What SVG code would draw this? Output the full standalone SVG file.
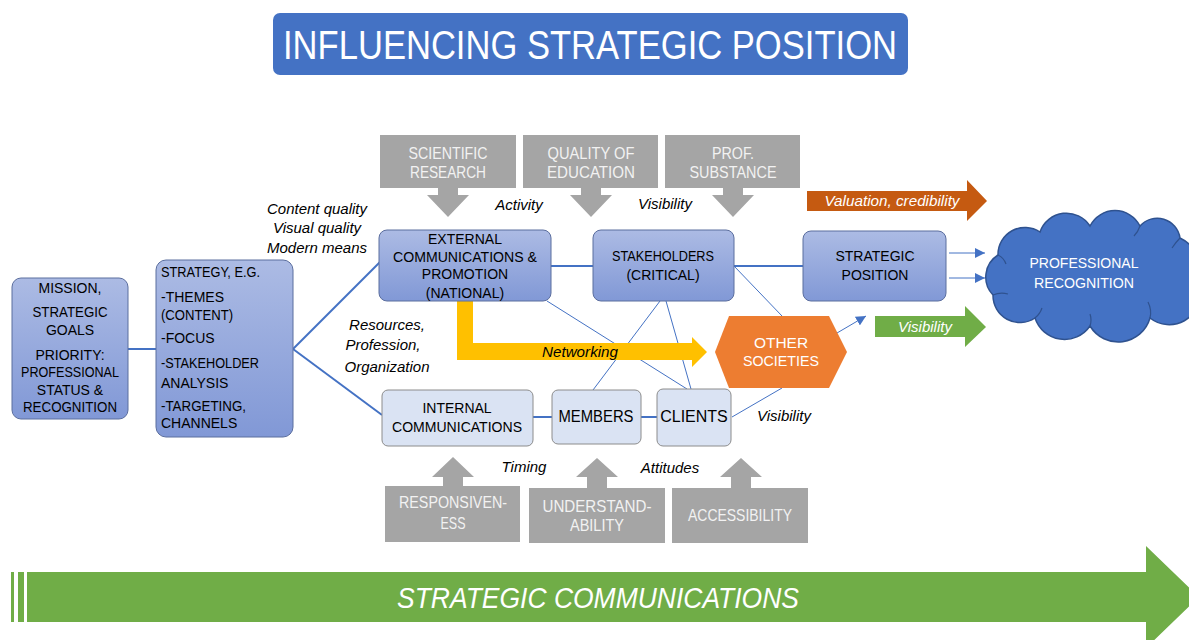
<svg xmlns="http://www.w3.org/2000/svg" width="1189" height="640" viewBox="0 0 1189 640">
  <defs>
    <linearGradient id="gBlue" x1="0" y1="0" x2="0" y2="1">
      <stop offset="0" stop-color="#ACBBE4"/>
      <stop offset="1" stop-color="#8198D6"/>
    </linearGradient>
    <marker id="ah" viewBox="0 0 10 10" refX="10" refY="5" markerWidth="10" markerHeight="10" markerUnits="userSpaceOnUse" orient="auto">
      <path d="M0,0 L10,5 L0,10 Z" fill="#4472C4"/>
    </marker>
    <style>
      text { font-family: "Liberation Sans", Arial, sans-serif; }
      .n { fill: url(#gBlue); stroke: #5B6E9E; stroke-width: 1; }
      .lt { fill: #DAE3F3; stroke: #8C8C8C; stroke-width: 1; }
      .g { fill: #A5A5A5; }
      .t { font-size: 14px; fill: #000; text-anchor: middle; }
      .tl { font-size: 14px; fill: #000; }
      .tg { font-size: 17px; fill: #F2F2F2; text-anchor: middle; }
      .tw { font-size: 15.5px; fill: #FFFFFF; text-anchor: middle; }
      .i { font-size: 15px; font-style: italic; fill: #000; text-anchor: middle; }
      .iw { font-size: 15px; font-style: italic; fill: #FFFFFF; text-anchor: middle; }
      .c { stroke: #4472C4; stroke-width: 2; fill: none; }
      .th { stroke: #4472C4; stroke-width: 1; fill: none; }
    </style>
  </defs>

  <rect width="1189" height="640" fill="#FFFFFF"/>

  <!-- title banner -->
  <g id="title">
    <rect x="273" y="13" width="635" height="62" rx="7" fill="#4472C4"/>
    <text x="590" y="59" font-size="40" fill="#FFFFFF" text-anchor="middle" textLength="614" lengthAdjust="spacingAndGlyphs">INFLUENCING STRATEGIC POSITION</text>
  </g>

  <!-- connectors -->
  <g id="connectors">
    <line class="c" x1="128" y1="349" x2="156" y2="349"/>
    <line class="c" x1="293" y1="349" x2="380" y2="262"/>
    <line class="c" x1="293" y1="349" x2="382" y2="415"/>
    <line class="c" x1="551" y1="266" x2="593" y2="266"/>
    <line class="c" x1="734" y1="266" x2="803" y2="266"/>
    <line class="c" x1="533" y1="417" x2="552" y2="417" stroke-width="2.5"/>
    <line class="c" x1="641" y1="417" x2="657" y2="417" stroke-width="2.5"/>
    <line class="th" x1="547" y1="301" x2="687" y2="389"/>
    <line class="th" x1="660" y1="301" x2="593" y2="390"/>
    <line class="th" x1="666" y1="301" x2="691" y2="389"/>
    <line class="th" x1="734" y1="266" x2="782" y2="316"/>
    <line class="th" x1="732" y1="417" x2="782" y2="388"/>
    <line class="th" x1="837" y1="333" x2="866" y2="316" marker-end="url(#ah)"/>
    <line class="th" x1="949" y1="253" x2="985" y2="253" marker-end="url(#ah)"/>
    <line class="th" x1="949" y1="278" x2="985" y2="278" marker-end="url(#ah)"/>
  </g>

  <!-- top input arrows -->
  <g id="scientific-research">
    <path class="g" d="M380,135 H516 V188 H458 V195 H469 L448,217 L427,195 H438 V188 H380 Z"/>
    <text class="tg" x="448" y="159" textLength="79" lengthAdjust="spacingAndGlyphs">SCIENTIFIC</text>
    <text class="tg" x="448" y="178" textLength="76" lengthAdjust="spacingAndGlyphs">RESEARCH</text>
  </g>
  <g id="quality-of-education">
    <path class="g" d="M523,135 H658 V188 H601 V195 H612 L591,217 L570,195 H581 V188 H523 Z"/>
    <text class="tg" x="591" y="159" textLength="87" lengthAdjust="spacingAndGlyphs">QUALITY OF</text>
    <text class="tg" x="591" y="178" textLength="88" lengthAdjust="spacingAndGlyphs">EDUCATION</text>
  </g>
  <g id="prof-substance">
    <path class="g" d="M665,135 H800 V188 H743 V195 H754 L733,217 L712,195 H723 V188 H665 Z"/>
    <text class="tg" x="733" y="159" textLength="42" lengthAdjust="spacingAndGlyphs">PROF.</text>
    <text class="tg" x="733" y="178" textLength="87" lengthAdjust="spacingAndGlyphs">SUBSTANCE</text>
  </g>

  <!-- bottom input arrows -->
  <g id="responsiveness">
    <path class="g" d="M385,486 H443 V477 H432 L453,457 L474,477 H463 V486 H520 V542 H385 Z"/>
    <text class="tg" x="453" y="508" textLength="108" lengthAdjust="spacingAndGlyphs">RESPONSIVEN-</text>
    <text class="tg" x="453" y="529" textLength="25" lengthAdjust="spacingAndGlyphs">ESS</text>
  </g>
  <g id="understandability">
    <path class="g" d="M529,488 H587 V477 H576 L597,458 L618,477 H607 V488 H665 V543 H529 Z"/>
    <text class="tg" x="597" y="512" textLength="109" lengthAdjust="spacingAndGlyphs">UNDERSTAND-</text>
    <text class="tg" x="597" y="531" textLength="54" lengthAdjust="spacingAndGlyphs">ABILITY</text>
  </g>
  <g id="accessibility">
    <path class="g" d="M672,488 H731 V477 H720 L741,458 L762,477 H751 V488 H808 V543 H672 Z"/>
    <text class="tg" x="740" y="521" textLength="104" lengthAdjust="spacingAndGlyphs">ACCESSIBILITY</text>
  </g>

  <!-- networking arrow -->
  <g id="networking">
    <path d="M457,300 H473 V343 H692 V337 L707,352 L692,367 V360 H457 Z" fill="#FFC000"/>
    <text class="i" x="580" y="357" textLength="76" lengthAdjust="spacingAndGlyphs">Networking</text>
  </g>

  <!-- valuation arrow -->
  <g id="valuation">
    <path d="M807,191 H967 V180 L987,201 L967,221 V211 H807 Z" fill="#C55A11"/>
    <text class="iw" x="892" y="206" textLength="135" lengthAdjust="spacingAndGlyphs">Valuation, credibility</text>
  </g>

  <!-- visibility arrow -->
  <g id="visibility-arrow">
    <path d="M875,316 H965 V306 L986,327 L965,347 V337 H875 Z" fill="#70AD47"/>
    <text class="iw" x="925" y="332">Visibility</text>
  </g>

  <!-- nodes -->
  <g id="mission">
    <rect class="n" x="12" y="278" width="116" height="141" rx="9"/>
    <text class="t" x="70" y="293">MISSION,</text>
    <text class="t" x="70" y="317" textLength="75" lengthAdjust="spacingAndGlyphs">STRATEGIC</text>
    <text class="t" x="70" y="335">GOALS</text>
    <text class="t" x="70" y="360">PRIORITY:</text>
    <text class="t" x="70" y="377" textLength="98" lengthAdjust="spacingAndGlyphs">PROFESSIONAL</text>
    <text class="t" x="70" y="395">STATUS &amp;</text>
    <text class="t" x="70" y="412" textLength="94" lengthAdjust="spacingAndGlyphs">RECOGNITION</text>
  </g>

  <g id="strategy">
    <rect class="n" x="156" y="260" width="137" height="177" rx="10"/>
    <text class="tl" x="161" y="277" textLength="99" lengthAdjust="spacingAndGlyphs">STRATEGY, E.G.</text>
    <text class="tl" x="161" y="302">-THEMES</text>
    <text class="tl" x="161" y="320" textLength="72" lengthAdjust="spacingAndGlyphs">(CONTENT)</text>
    <text class="tl" x="161" y="343">-FOCUS</text>
    <text class="tl" x="161" y="368" textLength="98" lengthAdjust="spacingAndGlyphs">-STAKEHOLDER</text>
    <text class="tl" x="161" y="388">ANALYSIS</text>
    <text class="tl" x="161" y="411" textLength="85" lengthAdjust="spacingAndGlyphs">-TARGETING,</text>
    <text class="tl" x="161" y="428">CHANNELS</text>
  </g>

  <g id="external-communications">
    <rect class="n" x="379" y="230" width="172" height="71" rx="8"/>
    <text class="t" x="465" y="244">EXTERNAL</text>
    <text class="t" x="465" y="262" textLength="144" lengthAdjust="spacingAndGlyphs">COMMUNICATIONS &amp;</text>
    <text class="t" x="465" y="279">PROMOTION</text>
    <text class="t" x="465" y="298">(NATIONAL)</text>
  </g>

  <g id="stakeholders">
    <rect class="n" x="593" y="230" width="141" height="71" rx="8"/>
    <text class="t" x="663" y="261" textLength="102" lengthAdjust="spacingAndGlyphs">STAKEHOLDERS</text>
    <text class="t" x="663" y="280">(CRITICAL)</text>
  </g>

  <g id="strategic-position">
    <rect class="n" x="803" y="231" width="143" height="70" rx="8"/>
    <text class="t" x="875" y="261">STRATEGIC</text>
    <text class="t" x="875" y="280">POSITION</text>
  </g>

  <g id="internal-communications">
    <rect class="lt" x="382" y="390" width="151" height="56" rx="6"/>
    <text class="t" x="457" y="413">INTERNAL</text>
    <text class="t" x="457" y="432" textLength="130" lengthAdjust="spacingAndGlyphs">COMMUNICATIONS</text>
  </g>

  <g id="members">
    <rect class="lt" x="552" y="390" width="89" height="54" rx="6"/>
    <text class="t" x="596" y="422" style="font-size:16px" textLength="75" lengthAdjust="spacingAndGlyphs">MEMBERS</text>
  </g>

  <g id="clients">
    <rect class="lt" x="657" y="389" width="74" height="57" rx="6"/>
    <text class="t" x="694" y="422" style="font-size:16px">CLIENTS</text>
  </g>

  <g id="other-societies">
    <polygon points="715,352 729,316 829,316 847,352 829,388 729,388" fill="#ED7D31"/>
    <text class="tw" x="781" y="348">OTHER</text>
    <text class="tw" x="781" y="366" textLength="76" lengthAdjust="spacingAndGlyphs">SOCIETIES</text>
  </g>

  <g id="professional-recognition">
    <path d="M993,295 A26,26 0 0 1 998,255 A27,27 0 0 1 1040,232 A28,28 0 0 1 1090,226 A28,28 0 0 1 1140,226 A23,23 0 0 1 1180,238 A41,41 0 0 1 1200,290 A31,31 0 0 1 1150,318 A33,33 0 0 1 1090,326 A31,31 0 0 1 1035,318 A27,27 0 0 1 993,295 Z" fill="#4472C4" stroke="#2F528F" stroke-width="1.5"/>
    <g fill="none" stroke="#2F528F" stroke-width="1.2">
      <path d="M993,295 Q1000,292 1008,294"/>
      <path d="M998,255 Q1004,258 1006,264"/>
      <path d="M1035,318 Q1040,314 1042,308"/>
      <path d="M1090,326 Q1092,320 1090,314"/>
      <path d="M1150,318 Q1152,310 1148,302"/>
      <path d="M1140,226 Q1138,232 1134,236"/>
      <path d="M1180,238 Q1176,242 1172,248"/>
    </g>
    <text class="tw" x="1084" y="268" textLength="109" lengthAdjust="spacingAndGlyphs">PROFESSIONAL</text>
    <text class="tw" x="1084" y="288" textLength="100" lengthAdjust="spacingAndGlyphs">RECOGNITION</text>
  </g>

  <!-- edge labels -->
  <g id="labels">
    <text class="i" x="317" y="214">Content quality</text>
    <text class="i" x="317" y="233">Visual quality</text>
    <text class="i" x="317" y="253">Modern means</text>
    <text class="i" x="387" y="330">Resources,</text>
    <text class="i" x="383" y="350">Profession,</text>
    <text class="i" x="387" y="372">Organization</text>
    <text class="i" x="519" y="210">Activity</text>
    <text class="i" x="665" y="209">Visibility</text>
    <text class="i" x="784" y="421">Visibility</text>
    <text class="i" x="524" y="472">Timing</text>
    <text class="i" x="670" y="473">Attitudes</text>
  </g>

  <!-- strategic communications band -->
  <g id="strategic-communications">
    <rect x="11" y="572" width="3" height="50" fill="#70AD47"/>
    <rect x="18" y="572" width="6" height="50" fill="#70AD47"/>
    <path d="M27,572 H1146 V546 L1199,597 L1146,648 V622 H27 Z" fill="#70AD47"/>
    <text x="598" y="608" font-size="30" font-style="italic" fill="#FFFFFF" text-anchor="middle" textLength="402" lengthAdjust="spacingAndGlyphs">STRATEGIC COMMUNICATIONS</text>
  </g>
</svg>
